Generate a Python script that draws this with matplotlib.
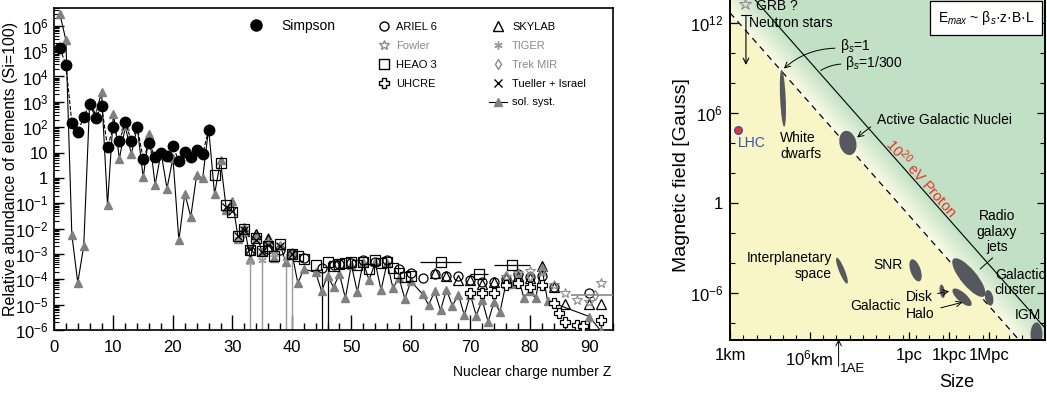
import numpy as np
import matplotlib
matplotlib.use("Agg")
from matplotlib import pyplot as plt
from matplotlib.patches import Ellipse
from matplotlib.lines import Line2D
from matplotlib.ticker import MultipleLocator, LogLocator, NullFormatter

plt.rcParams['font.family'] = ['Liberation Sans', 'DejaVu Sans']
plt.rcParams['mathtext.fontset'] = 'custom'
plt.rcParams['mathtext.rm'] = 'Liberation Sans'
plt.rcParams['mathtext.it'] = 'Liberation Sans:italic'

# ---------------- left panel: abundances (Si = 100) ----------------
sol_z = list(range(1, 43)) + list(range(44, 61)) + list(range(62, 84)) + [90, 92]
sol_ab = [2.79e6, 2.72e5, 5.7e-3, 7.3e-5, 2.1e-3, 1010, 313, 2380, 0.084, 344,
          5.7, 107, 8.5, 100, 1.04, 51.5, 0.52, 10.1, 0.38, 6.1,
          3.4e-3, 0.24, 0.029, 1.35, 0.95, 90, 0.225, 4.9, 0.052, 0.126,
          3.8e-3, 0.012, 6.6e-4, 6.2e-3, 1.2e-3, 4.5e-3, 7.1e-4, 2.35e-3, 4.6e-4, 1.14e-3,
          7e-5, 2.55e-4,
          1.86e-4, 3.4e-5, 1.39e-4, 4.9e-5, 1.6e-4, 1.8e-5, 3.8e-4, 3.1e-5, 4.8e-4, 9e-5,
          4.7e-4, 3.7e-5, 4.5e-4, 4.5e-5, 1.14e-4, 1.7e-5, 8.3e-5,
          2.6e-5, 9.7e-6, 3.3e-5, 6e-6, 3.9e-5, 8.9e-6, 2.5e-5, 3.8e-6, 2.5e-5, 3.7e-6,
          1.5e-5, 2.1e-6, 1.3e-5, 5.2e-6, 6.8e-5, 6.6e-5, 1.34e-4, 1.9e-5, 3.4e-5, 1.8e-5,
          3.2e-4, 1.4e-5,
          3.4e-6, 9e-7]

simpson_z = list(range(1, 27))
simpson_ab = [1.3e5, 2.9e4, 148, 65, 250, 830, 230, 690, 16.6, 100,
              28, 158, 28, 100, 5.5, 24, 6.6, 10, 7.2, 17.4,
              4.6, 10.5, 6.6, 12.6, 8.7, 78]

heao_z = [27, 28, 29, 30, 31, 32, 33, 34, 35, 36, 37, 38, 40, 41, 42, 44, 46, 47, 48,
          49, 50, 51, 52, 53, 54, 55, 56, 57, 58, 59, 60, 65, 71.5, 77]
heao_ab = [1.26, 3.8, 0.085, 0.045, 5e-3, 0.01, 1.4e-3, 4.2e-3, 1.25e-3, 2e-3, 8e-4,
           2.5e-3, 1e-3, 8e-4, 6.3e-4, 3.5e-4, 5e-4, 3.2e-4, 4e-4, 4.5e-4, 5e-4, 3.5e-4,
           5e-4, 2.5e-4, 5.6e-4, 4.5e-4, 5e-4, 2.8e-4, 1.8e-4, 1.25e-4, 1.4e-4,
           4.7e-4, 1.6e-4, 3.5e-4]
heao_zerr = [0] * 31 + [3.5, 1.5, 3]

ariel_z = [33, 36, 38, 40, 42, 45, 47, 48, 50, 52, 54, 56, 58, 60, 62, 64, 66, 68,
           70, 72, 74, 76, 78, 80, 82, 84, 90]
ariel_ab = [1.3e-3, 1.6e-3, 1.4e-3, 1e-3, 7e-4, 2.7e-4, 3.5e-4, 4e-4, 4.5e-4, 6e-4,
            5e-4, 6e-4, 2.5e-4, 1.8e-4, 1.1e-4, 1.6e-4, 1.3e-4, 1.4e-4, 9e-5, 8e-5,
            8e-5, 1e-4, 1.6e-4, 1.2e-4, 1.4e-4, 5e-5, 2.8e-5]

skylab_z = [32, 34, 36, 64, 66, 68, 70, 72, 74, 76, 78, 80, 82, 84, 86, 90, 92]
skylab_ab = [8e-3, 6e-3, 4e-3, 1.8e-4, 1.4e-4, 9e-5, 9e-5, 6.5e-5, 8e-5, 1.1e-4,
             1.3e-4, 1.1e-4, 3.2e-4, 5e-5, 1.1e-5, 1.1e-5, 1.1e-5]

fowler_z = [76, 78, 80, 82, 84, 86, 88, 90, 92]
fowler_ab = [1.2e-4, 1.8e-4, 2.2e-4, 2e-4, 6e-5, 3e-5, 1.5e-5, 1.3e-5, 7e-5]

tiger_z = [31, 32, 33, 34, 35, 36, 37, 38, 39, 40]
tiger_ab = [4e-3, 6e-3, 5e-4, 4e-3, 6e-4, 3e-3, 1e-3, 2e-3, 7e-4, 1e-3]
tiger_open_z = [33, 35, 39, 40]  # error bars reaching down to zero

trek_z = [76, 78, 80, 82, 91]
trek_ab = [1.3e-4, 1.5e-4, 1.3e-4, 2.5e-4, 2.5e-5]
trek_zerr = [0, 0, 0, 0, 4]

uhcre_z = [70, 72, 74, 76, 78, 80, 82, 84, 85, 86, 88, 89, 92]
uhcre_ab = [2.8e-5, 3e-5, 3e-5, 6e-5, 7e-5, 5e-5, 6e-5, 1.2e-5, 4.5e-6, 2e-6,
            1.6e-6, 1.4e-6, 2.5e-6]

tueller_z = [29, 30, 31, 32, 33, 34, 35, 36, 38, 40]
tueller_ab = [0.07, 0.05, 5e-3, 9e-3, 1.5e-3, 3.5e-3, 1.2e-3, 2.2e-3, 2e-3, 1e-3]

black_open_z = [45, 46]
black_open_top = [2.7e-4, 5e-4]

# ---------------- right panel: Hillas plot (log10 units) ----------------
bl_beta1 = 15.65     # log10(B[G] * L[m]) for 1e20 eV proton, beta_s = 1
bl_beta300 = 18.4    # beta_s = 1/300

obj_name = ["White dwarfs", "AGN", "Interplanetary", "SNR", "Disk", "Halo",
            "Radio jets", "Cluster", "IGM"]
obj_logl = [6.98, 11.87, 11.42, 16.96, 18.97, 20.46, 20.97, 22.5, 26.06]
obj_logb = [6.97, 4.0, -4.49, -4.47, -5.86, -6.26, -4.95, -6.3, -8.73]
obj_w = [0.42, 1.25, 0.42, 0.75, 0.38, 1.74, 3.4, 0.6, 0.9]
obj_h = [3.8, 1.65, 1.9, 1.57, 0.9, 0.65, 1.15, 1.06, 1.6]
obj_ang = [3, 20, 25, 23, 10, -37, -46, 15, 0]

x_tick_pos = [3, 9, 16.49, 19.49, 22.49]
x_tick_lab = ["1km", "10$^{6}$km", "1pc", "1kpc", "1Mpc"]
y_tick_pos = [-6, 0, 6, 12]
y_tick_lab = ["10$^{-6}$", "1", "10$^{6}$", "10$^{12}$"]
au_logl = 11.17
lhc = (3.6, 4.85)
grb = (4.13, 13.26)
ns_logl, ns_top, ns_bottom = 4.2, 12.66, 9.0

W, H = 1047, 393
fig = plt.figure(figsize=(W / 100, H / 100), dpi=100)

# ===== left axes =====
ax1 = fig.add_axes([54 / W, 63 / H, 559 / W, 322 / H])
ax1.set_yscale('log')
ax1.set_xlim(0, 94)
ax1.set_ylim(1e-6, 10 ** 6.7)

ax1.plot(sol_z, sol_ab, color='black', lw=0.8, marker='^', ms=6,
         mfc='#808080', mec='#808080', zorder=3)
ax1.plot(simpson_z, simpson_ab, color='black', ls='--', lw=0.8, marker='o', ms=7.5,
         mfc='black', mec='black', zorder=4)

for z, top in zip(tiger_open_z, [tiger_ab[tiger_z.index(z)] for z in tiger_open_z]):
    ax1.plot([z, z], [1e-7, top], color='#9a9a9a', lw=1.0, zorder=2)
ax1.vlines(black_open_z, 1e-7, black_open_top, color='black', lw=0.9, zorder=2)

ax1.errorbar(heao_z, heao_ab, xerr=heao_zerr, fmt='s', ms=6.5, mfc='none', mec='black',
             ecolor='black', elinewidth=0.9, mew=0.9, zorder=5)
ax1.plot(ariel_z, ariel_ab, ls='none', marker='o', ms=6.5, mfc='none', mec='black', mew=0.9, zorder=5)
ax1.plot(skylab_z, skylab_ab, ls='none', marker='^', ms=6.5, mfc='none', mec='black', mew=0.9, zorder=5)
ax1.plot(fowler_z, fowler_ab, ls='none', marker='*', ms=7.5, mfc='none', mec='#8a8a8a', mew=0.8, zorder=5)
ax1.plot(tiger_z, tiger_ab, ls='none', marker=(6, 2, 0), ms=6, mec='#9a9a9a', mew=0.9, zorder=5)
ax1.errorbar(trek_z, trek_ab, xerr=trek_zerr, fmt='d', ms=5.5, mfc='none', mec='#8a8a8a',
             ecolor='#8a8a8a', elinewidth=1.2, zorder=5)
ax1.plot(uhcre_z, uhcre_ab, ls='none', marker='P', ms=7.5, mfc='white', mec='black', mew=0.9, zorder=6)
ax1.plot(tueller_z, tueller_ab, ls='none', marker='x', ms=5.5, mec='black', mew=0.9, zorder=6)

ax1.xaxis.set_major_locator(MultipleLocator(10))
ax1.xaxis.set_minor_locator(MultipleLocator(2))
ax1.yaxis.set_major_locator(LogLocator(base=10, numticks=20))
ax1.yaxis.set_minor_locator(LogLocator(base=10, subs=np.arange(2, 10), numticks=40))
ax1.yaxis.set_minor_formatter(NullFormatter())


def abund_label(v, pos):
    e = int(round(np.log10(v)))
    if e == 0:
        return "1"
    if e == 1:
        return "10"
    return "10$^{%d}$" % e


ax1.yaxis.set_major_formatter(plt.FuncFormatter(abund_label))
ax1.tick_params(axis='x', which='major', direction='in', length=11, width=1, labelsize=12, pad=7)
ax1.tick_params(axis='x', which='minor', direction='in', length=5, width=1)
ax1.tick_params(axis='y', which='major', direction='in', length=7, width=1, labelsize=12, pad=4)
ax1.tick_params(axis='y', which='minor', direction='in', length=3.5, width=0.8)
ax1.tick_params(top=False, right=False)
for s in ax1.spines.values():
    s.set_linewidth(1.2)

ax1.set_ylabel("Relative abundance of elements (Si=100)", fontsize=11.5)
ax1.yaxis.set_label_coords(-0.064, 0.5)
ax1.set_xlabel("Nuclear charge number Z", fontsize=10, ha='right')
ax1.xaxis.set_label_coords(0.996, -0.11)

h_simpson = Line2D([], [], ls='none', marker='o', ms=8, mfc='black', mec='black')
leg1 = ax1.legend([h_simpson], ["Simpson"], loc='upper left', bbox_to_anchor=(0.349, 0.965),
                  frameon=False, fontsize=10, handlelength=1.0, handletextpad=1.3,
                  borderpad=0, borderaxespad=0)
ax1.add_artist(leg1)

col2 = [Line2D([], [], ls='none', marker='o', ms=6.5, mfc='none', mec='black'),
        Line2D([], [], ls='none', marker='*', ms=7.5, mfc='none', mec='#8a8a8a'),
        Line2D([], [], ls='none', marker='s', ms=6.5, mfc='none', mec='black'),
        Line2D([], [], ls='none', marker='P', ms=7.5, mfc='white', mec='black')]
leg2 = ax1.legend(col2, ["ARIEL 6", "Fowler", "HEAO 3", "UHCRE"], loc='upper left',
                  bbox_to_anchor=(0.58, 0.957), frameon=False, fontsize=8, handlelength=1.0,
                  handletextpad=0.6, labelspacing=0.8, borderpad=0, borderaxespad=0)
for txt, c in zip(leg2.get_texts(), ['black', '#8a8a8a', 'black', 'black']):
    txt.set_color(c)
ax1.add_artist(leg2)

col3 = [Line2D([], [], ls='none', marker='^', ms=6.5, mfc='none', mec='black'),
        Line2D([], [], ls='none', marker=(6, 2, 0), ms=6, mec='#9a9a9a'),
        Line2D([], [], ls='none', marker='d', ms=5.5, mfc='none', mec='#8a8a8a'),
        Line2D([], [], ls='none', marker='x', ms=5.5, mec='black'),
        Line2D([], [], color='black', lw=0.8, marker='^', ms=6, mfc='#808080', mec='#808080')]
leg3 = ax1.legend(col3, ["SKYLAB", "TIGER", "Trek MIR", "Tueller + Israel", "sol. syst."],
                  loc='upper left', bbox_to_anchor=(0.778, 0.957), frameon=False, fontsize=8,
                  handlelength=1.6, handletextpad=0.5, labelspacing=0.8, borderpad=0,
                  borderaxespad=0)
for txt, c in zip(leg3.get_texts(), ['black', '#8a8a8a', '#8a8a8a', 'black', 'black']):
    txt.set_color(c)

# ===== right axes =====
ax2 = fig.add_axes([730 / W, 53 / H, 315 / W, 343 / H])
xlo, xhi, ylo, yhi = 3, 26.7, -9.1, 13.7
ax2.set_xlim(xlo, xhi)
ax2.set_ylim(ylo, yhi)

gx, gy = np.meshgrid(np.linspace(xlo, xhi, 500), np.linspace(ylo, yhi, 500))
s = gx + gy
t = np.clip((s - bl_beta1) / (bl_beta300 - bl_beta1), 0, 1)[..., None]
c_yel = np.array([0.973, 0.965, 0.780])
c_pale = np.array([0.985, 0.985, 0.900])
c_grn = np.array([0.760, 0.882, 0.776])
img = np.where((s < bl_beta1)[..., None], c_yel, c_pale * (1 - t) + c_grn * t)
ax2.imshow(img, extent=[xlo, xhi, ylo, yhi], origin='lower', aspect='auto',
           interpolation='bilinear', zorder=0)

lx = np.array([xlo, xhi])
ax2.plot(lx, bl_beta1 - lx, color='white', lw=1.1, zorder=1)
ax2.plot(lx, bl_beta1 - lx, color='black', lw=0.9, ls=(0, (5, 4)), zorder=1)
ax2.plot(lx, bl_beta300 - lx, color='black', lw=0.8, zorder=1)

for xl, yb, w, h, a in zip(obj_logl, obj_logb, obj_w, obj_h, obj_ang):
    ax2.add_patch(Ellipse((xl, yb), w, h, angle=a, facecolor='#55595d', edgecolor='none', zorder=2))

ax2.plot(*lhc, ls='none', marker='o', ms=5.5, mfc='#e8312a', mec='#3a4fb0', mew=1, zorder=3)
ax2.text(lhc[0], lhc[1] - 0.85, "LHC", color='#3a4fb0', fontsize=10, ha='left', va='center')
ax2.plot(*grb, ls='none', marker='*', ms=9, mfc='#dddddd', mec='#888888', mew=0.7, zorder=3)
ax2.text(grb[0] + 0.8, grb[1] - 0.15, "GRB ?", fontsize=10, ha='left', va='center')
ax2.annotate("", xy=(ns_logl, ns_bottom), xytext=(ns_logl, ns_top),
             arrowprops=dict(arrowstyle=']->,widthA=0.35,lengthA=0', color='black', lw=0.8))
ax2.text(4.43, 12.0, "Neutron stars", fontsize=10, ha='left', va='center')

ax2.text(11.27, 10.41, "β$_s$=1", fontsize=10, ha='left', va='center')
ax2.text(11.65, 9.28, "β$_s$=1/300", fontsize=10, ha='left', va='center')
ax2.annotate("", xy=(6.9, 8.82), xytext=(11.1, 10.3),
             arrowprops=dict(arrowstyle='->', color='black', lw=0.7,
                             connectionstyle='arc3,rad=0.2'))
ax2.annotate("", xy=(9.65, 8.72), xytext=(11.55, 9.25),
             arrowprops=dict(arrowstyle='-', color='black', lw=0.7,
                             connectionstyle='arc3,rad=0.15'))

ax2.text(14.05, 5.51, "Active Galactic Nuclei", fontsize=10, ha='left', va='center')
ax2.annotate("", xy=(12.4, 4.25), xytext=(13.75, 5.18),
             arrowprops=dict(arrowstyle='->', color='black', lw=0.7))
ax2.text(6.76, 3.79, "White\ndwarfs", fontsize=10, ha='left', va='center', linespacing=1.15)
ax2.text(17.44, 1.67, "10$^{20}$ eV Proton", fontsize=10.5, color='#e8312a',
         rotation=-48.5, rotation_mode='anchor', ha='center', va='center')
ax2.text(23.07, -1.9, "Radio\ngalaxy\njets", fontsize=10, ha='center', va='center',
         linespacing=1.15)
ax2.plot([22.75, 21.82], [-3.65, -4.38], color='black', lw=0.7)
ax2.text(22.92, -5.28, "Galactic\ncluster", fontsize=10, ha='left', va='center',
         linespacing=1.15)
ax2.text(24.43, -7.47, "IGM", fontsize=10, ha='left', va='center')
ax2.text(10.67, -4.16, "Interplanetary\nspace", fontsize=10, ha='right', va='center',
         multialignment='right', linespacing=1.15)
ax2.text(15.98, -4.09, "SNR", fontsize=10, ha='right', va='center')
ax2.text(15.86, -6.87, "Galactic", fontsize=10, ha='right', va='center')
ax2.text(16.23, -6.21, "Disk", fontsize=10, ha='left', va='center')
ax2.text(16.23, -7.4, "Halo", fontsize=10, ha='left', va='center')
ax2.annotate("", xy=(19.49, -5.86), xytext=(18.62, -6.01),
             arrowprops=dict(arrowstyle='->', color='black', lw=0.7, shrinkA=0, shrinkB=0))
ax2.annotate("", xy=(20.5, -6.59), xytext=(18.86, -6.96),
             arrowprops=dict(arrowstyle='->', color='black', lw=0.7, shrinkA=0, shrinkB=0))

ax2.annotate("", xy=(au_logl, ylo + 0.05), xytext=(au_logl, ylo - 1.75),
             arrowprops=dict(arrowstyle='->', color='black', lw=0.7, shrinkA=0, shrinkB=0),
             annotation_clip=False)
ax2.text(au_logl + 0.1, ylo - 1.9, "1AE", fontsize=9.5, ha='left', va='center', clip_on=False)

ax2.text(0.813, 0.939, "E$_{max}$ ~ β$_s$·z·B·L", transform=ax2.transAxes, fontsize=10,
         ha='center', va='center', zorder=5,
         bbox=dict(boxstyle='square,pad=0.55', facecolor='white', edgecolor='black', lw=0.9))

ax2.set_xticks(x_tick_pos)
ax2.set_xticklabels(x_tick_lab)
ax2.set_yticks(y_tick_pos)
ax2.set_yticklabels(y_tick_lab)
ax2.xaxis.set_minor_locator(MultipleLocator(1))
ax2.yaxis.set_minor_locator(MultipleLocator(2))
ax2.tick_params(axis='both', which='major', direction='in', length=6, width=0.9,
                labelsize=12, right=True, top=False)
ax2.tick_params(axis='both', which='minor', direction='in', length=3.5, width=0.8,
                right=True, top=False)
ax2.tick_params(axis='x', pad=6)
ax2.tick_params(axis='y', pad=5)
for s_ in ax2.spines.values():
    s_.set_linewidth(1.4)
ax2.spines['top'].set_visible(False)

ax2.set_ylabel("Magnetic field [Gauss]", fontsize=14)
ax2.yaxis.set_label_coords(-0.127, 0.48)
ax2.set_xlabel("Size", fontsize=13)
ax2.xaxis.set_label_coords(0.72, -0.098)

fig.savefig("out.png", dpi=100)
